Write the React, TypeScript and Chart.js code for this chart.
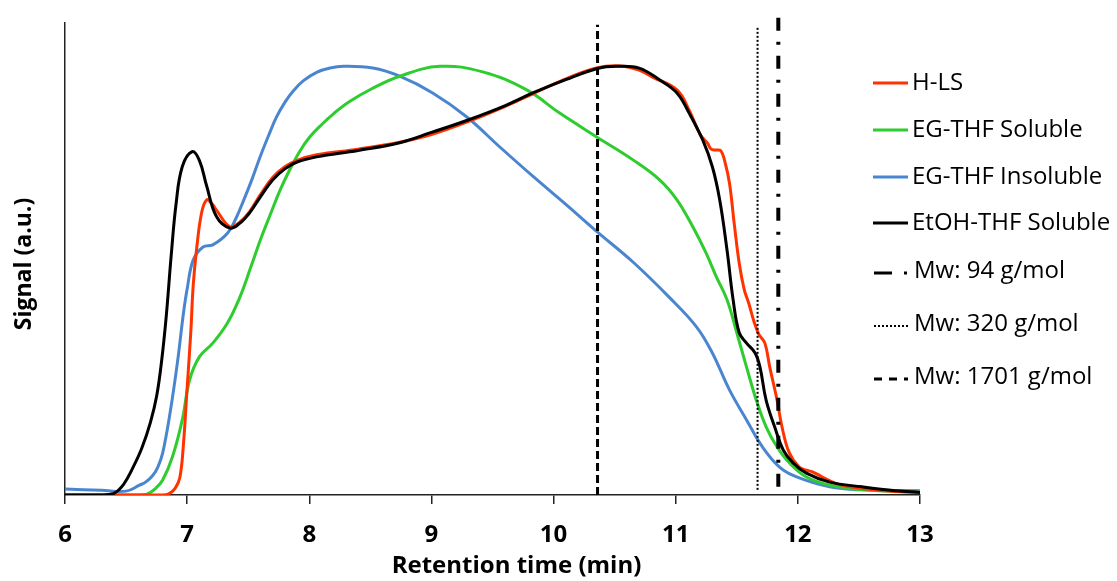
import React, { useEffect, useRef } from "react";
import { Chart, registerables } from "chart.js";

Chart.register(...registerables);

// ---------- data ----------
const seriesNames = ["H-LS", "EG-THF Soluble", "EG-THF Insoluble", "EtOH-THF Soluble"];
const seriesColors = ["#ff3300", "#2ecc2e", "#4a86d0", "#000000"];

const hlsX = [6.0, 6.8, 6.85, 6.9, 6.94, 6.97, 7.0, 7.03, 7.05, 7.08, 7.12, 7.16, 7.2, 7.24, 7.35, 7.43, 7.51, 7.6, 7.7, 7.8, 7.9, 8.06, 8.4, 8.74, 9.0, 9.3, 9.6, 9.83, 10.1, 10.36, 10.55, 10.7, 10.81, 11.01, 11.11, 11.2, 11.26, 11.29, 11.33, 11.37, 11.4, 11.44, 11.48, 11.52, 11.56, 11.6, 11.64, 11.68, 11.73, 11.77, 11.83, 11.87, 11.93, 12.01, 12.07, 12.12, 12.2, 12.32, 12.45, 12.7, 13.0];
const hlsY = [0, 0, 0.3, 1.5, 4, 12, 25, 38, 49, 58, 66, 68.8, 68, 66.4, 62.5, 63.6, 66, 70, 74, 76.5, 78, 79.3, 80.6, 82.2, 84, 87, 90.5, 93.5, 97, 99.6, 100, 99, 97.4, 94.4, 89.7, 84, 82, 80.6, 80.4, 80.2, 78, 72.7, 63, 54, 48, 44.5, 40.5, 37.5, 35.4, 29.8, 22.1, 15.9, 9.8, 6.5, 5.8, 5.4, 4.2, 2.6, 1.8, 1.0, 0.6];

const egSolX = [6.0, 6.6, 6.67, 6.74, 6.8, 6.88, 6.96, 7.02, 7.1, 7.21, 7.33, 7.43, 7.52, 7.6, 7.68, 7.76, 7.84, 7.92, 8.0, 8.1, 8.2, 8.33, 8.5, 8.74, 9.07, 9.42, 9.78, 10.05, 10.35, 10.65, 10.87, 11.01, 11.14, 11.25, 11.33, 11.42, 11.5, 11.58, 11.66, 11.74, 11.83, 11.93, 12.07, 12.26, 12.53, 13.0];
const egSolY = [0, 0, 0.2, 1.5, 3.5, 8.9, 17.5, 26.8, 32.2, 35.4, 40.1, 46, 53, 59.5, 65.3, 71, 75.8, 80, 83.3, 86.3, 88.9, 91.7, 94.5, 97.6, 99.9, 98.6, 94.4, 89, 83.5, 78.1, 73.4, 68.8, 62.5, 56.3, 51, 45.5, 37.8, 29.8, 22.1, 15.9, 11.2, 7.5, 4.2, 2.3, 1.2, 0.7];

const egInsX = [6.0, 6.3, 6.5, 6.61, 6.66, 6.72, 6.76, 6.8, 6.86, 6.92, 6.97, 7.0, 7.05, 7.13, 7.21, 7.33, 7.4, 7.46, 7.53, 7.6, 7.67, 7.73, 7.8, 7.87, 7.95, 8.06, 8.17, 8.28, 8.52, 8.74, 9.01, 9.29, 9.56, 9.83, 10.11, 10.35, 10.65, 10.95, 11.17, 11.3, 11.44, 11.58, 11.71, 11.85, 11.99, 12.26, 12.53, 13.0];
const egInsY = [1.4, 1.1, 0.9, 2.3, 3.0, 4.6, 6.5, 9.8, 19.1, 30.8, 42.4, 48, 54.8, 57.8, 58.3, 61, 64.5, 68.5, 73.5, 79, 84, 88, 91.5, 94.2, 96.5, 98.5, 99.5, 99.9, 99.5, 97.6, 93.7, 88.1, 81.1, 74.3, 67.5, 61.5, 54.3, 46, 39.2, 33.1, 24.5, 17.5, 11.2, 6.5, 4.2, 1.9, 1.2, 1.0];

const etohX = [6.0, 6.3, 6.4, 6.48, 6.56, 6.63, 6.7, 6.75, 6.79, 6.83, 6.87, 6.91, 6.96, 7.04, 7.1, 7.16, 7.24, 7.35, 7.43, 7.51, 7.6, 7.7, 7.8, 7.9, 8.06, 8.4, 8.74, 9.0, 9.3, 9.6, 9.83, 10.1, 10.36, 10.52, 10.7, 10.87, 11.01, 11.11, 11.22, 11.3, 11.36, 11.42, 11.47, 11.52, 11.58, 11.65, 11.69, 11.74, 11.81, 11.88, 11.96, 12.07, 12.26, 12.53, 12.8, 13.0];
const etohY = [0, 0, 0.4, 2.5, 6.6, 11, 17, 23, 31, 42, 56, 68, 76.5, 80, 78, 72, 64.9, 62.2, 63.3, 65.7, 69.5, 73.4, 76, 77.6, 78.8, 80.3, 82.1, 84.5, 87.4, 90.7, 93.7, 96.8, 99.4, 99.9, 99.5, 96.7, 93.7, 89, 82.8, 76.5, 68.8, 57.1, 45.5, 37.8, 35.4, 33.1, 29.8, 22.1, 15.9, 10.5, 7.5, 5.1, 3.0, 1.9, 1.0, 0.6];

const markerNames = ["Mw: 94 g/mol", "Mw: 320 g/mol", "Mw: 1701 g/mol"];
const markerX = [11.84, 11.67, 10.36];
const markerYBottom = [1.9, 1.2, 0];
const markerYTop = [111.9, 108.9, 109.6];

const xTickValues = [6, 7, 8, 9, 10, 11, 12, 13];
const xTitle = "Retention time (min)";
const yTitle = "Signal (a.u.)";

// ---------- styles ----------
const FONT = "'Open Sans', sans-serif";
const markerDash = [[13, 11, 3, 11], [2, 2], [8, 4]];
const markerWidth = [4, 2, 3];
const legendMarkerDash = [[18, 12, 3, 10], [2, 2], [8, 7]];

const legendPlugin = {
  id: "customLegend",
  afterDraw(chart: any) {
    const ctx = chart.ctx as CanvasRenderingContext2D;
    const area = chart.chartArea;
    const right = area.right;
    const x0 = right - 47;
    const x1 = right - 12;
    const tx = right - 8;
    const rows = [83, 130, 177, 223, 271, 324, 377];
    ctx.save();
    ctx.font = `24px ${FONT}`;
    ctx.textBaseline = "middle";
    ctx.textAlign = "left";
    ctx.lineCap = "butt";
    seriesNames.forEach((name, i) => {
      const y = rows[i];
      ctx.setLineDash([]);
      ctx.strokeStyle = seriesColors[i];
      ctx.lineWidth = 3;
      ctx.beginPath();
      ctx.moveTo(x0, y);
      ctx.lineTo(x1, y);
      ctx.stroke();
      ctx.fillStyle = "#000";
      ctx.fillText(name, tx, y);
    });
    markerNames.forEach((name, i) => {
      const y = rows[seriesNames.length + i];
      ctx.setLineDash(legendMarkerDash[i]);
      ctx.strokeStyle = "#000";
      ctx.lineWidth = i === 1 ? 2 : 3;
      ctx.beginPath();
      ctx.moveTo(x0 + 1, y + 2);
      ctx.lineTo(x1, y + 2);
      ctx.stroke();
      ctx.setLineDash([]);
      ctx.fillStyle = "#000";
      ctx.fillText(name, tx + 2, y);
    });

    // axis titles
    ctx.font = `bold 24px ${FONT}`;
    ctx.textAlign = "center";
    ctx.fillText(xTitle, (area.left + area.right) / 2 + 24, 566);
    ctx.save();
    ctx.translate(24, (area.top + area.bottom) / 2 + 5);
    ctx.rotate(-Math.PI / 2);
    ctx.font = `bold 23px ${FONT}`;
    ctx.fillText(yTitle, 0, 0);
    ctx.restore();
    ctx.restore();
  },
};

export default function App() {
  const canvasRef = useRef<HTMLCanvasElement>(null);

  useEffect(() => {
    document.body.style.margin = "0";
    const canvas = canvasRef.current!;
    const toPts = (xs: number[], ys: number[]) => xs.map((x, i) => ({ x, y: ys[i] }));
    const seriesX = [hlsX, egSolX, egInsX, etohX];
    const seriesY = [hlsY, egSolY, egInsY, etohY];
    const seriesOrder = [2, 3, 4, 1];

    const datasets: any[] = seriesNames.map((name, i) => ({
      label: name,
      data: toPts(seriesX[i], seriesY[i]),
      borderColor: seriesColors[i],
      backgroundColor: seriesColors[i],
      borderWidth: 3,
      pointRadius: 0,
      tension: 0.4,
      fill: false,
      order: seriesOrder[i],
    }));

    markerNames.forEach((name, i) => {
      datasets.push({
        label: name,
        data: [
          { x: markerX[i], y: markerYBottom[i] },
          { x: markerX[i], y: markerYTop[i] },
        ],
        borderColor: "#000",
        borderWidth: markerWidth[i],
        borderDash: markerDash[i],
        borderCapStyle: "butt",
        pointRadius: 0,
        tension: 0,
        fill: false,
        clip: false,
        order: 0,
      });
    });

    const chart = new Chart(canvas, {
      type: "line",
      data: { datasets },
      options: {
        responsive: false,
        animation: false,
        devicePixelRatio: 1,
        layout: { padding: { top: 23, right: 197, left: 0, bottom: 0 } },
        plugins: {
          legend: { display: false },
          tooltip: { enabled: false },
        },
        scales: {
          x: {
            type: "linear",
            min: 6,
            max: 13,
            afterBuildTicks: (scale: any) => {
              scale.ticks = xTickValues.map((v) => ({ value: v }));
            },
            afterFit: (scale: any) => {
              scale.height = 86;
            },
            grid: {
              drawOnChartArea: false,
              drawTicks: true,
              tickLength: 9,
              color: "#222",
              lineWidth: 1.5,
            },
            border: { display: true, color: "#222", width: 1.5 },
            ticks: {
              color: "#000",
              padding: 17,
              maxRotation: 0,
              autoSkip: false,
              font: { family: FONT, size: 24, weight: "bold" },
            },
            title: { display: false },
          },
          y: {
            type: "linear",
            min: 0,
            max: 110,
            afterFit: (scale: any) => {
              scale.width = 65;
            },
            grid: { display: false, drawTicks: false },
            border: { display: true, color: "#222", width: 1.5 },
            ticks: { display: false },
            title: { display: false },
          },
        },
      } as any,
      plugins: [legendPlugin],
    });
    return () => chart.destroy();
  }, []);

  return (
    <div style={{ width: 1117, height: 581 }}>
      <canvas ref={canvasRef} width={1117} height={581} style={{ display: "block" }} />
    </div>
  );
}
